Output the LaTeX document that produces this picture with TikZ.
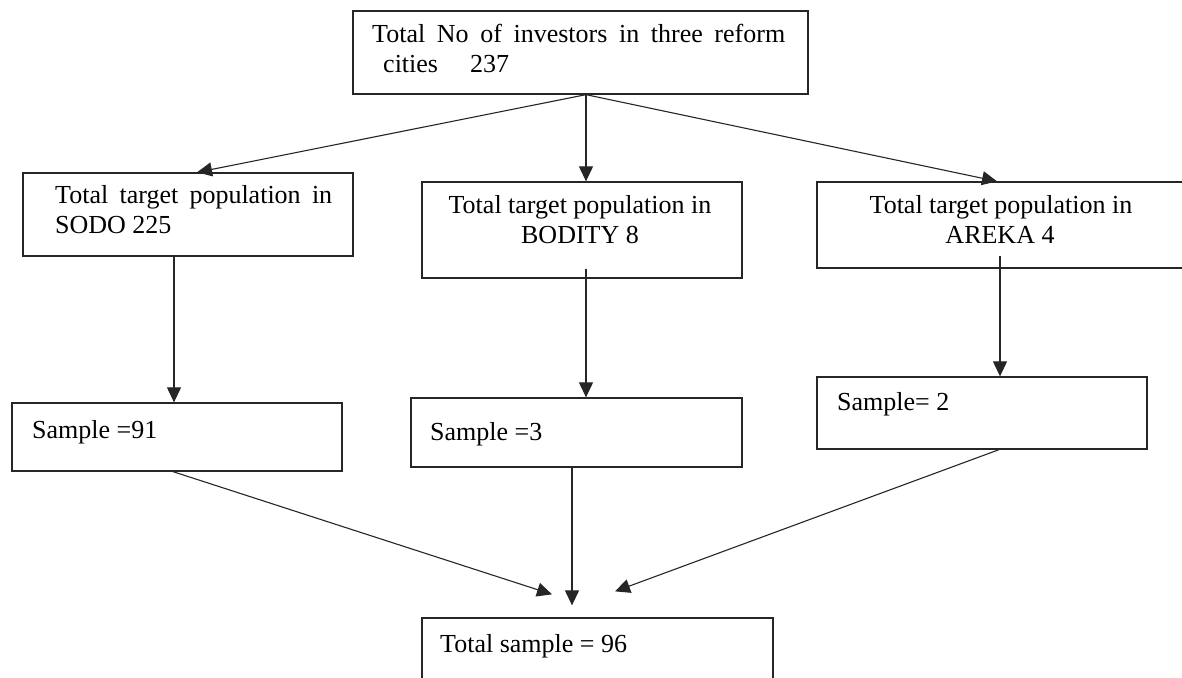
\documentclass[tikz,border=0pt]{standalone}
\usepackage{fontspec}
\setmainfont{Liberation Serif}
\usetikzlibrary{arrows.meta,calc}
\begin{document}
\begin{tikzpicture}[x=1pt,y=-1pt,
  box/.style={draw=black!85,line width=1.3pt,rectangle,inner sep=0pt},
  txt/.style={anchor=base west,inner sep=0pt,font=\fontsize{26}{30}\selectfont},
  ctxt/.style={anchor=base,inner sep=0pt,font=\fontsize{26}{30}\selectfont},
  arr/.style={draw=black!85,line width=1.1pt,-{Triangle[length=15pt,width=14pt]}}]
\clip (0,0) rectangle (1182,677);
\fill[white] (0,0) rectangle (1182,677);
% boxes
\node[box,minimum width=455pt,minimum height=83pt] (top) at (580.5,52.5) {};
\node[box,minimum width=330pt,minimum height=83pt] (b1) at (188,214.5) {};
\node[box,minimum width=320pt,minimum height=96pt] (b2) at (582,230) {};
\node[box,minimum width=383pt,minimum height=86pt] (b3) at (1008.5,225) {};
\node[box,minimum width=330pt,minimum height=68pt] (s1) at (177,437) {};
\node[box,minimum width=331pt,minimum height=69pt] (s2) at (576.5,432.5) {};
\node[box,minimum width=330pt,minimum height=72pt] (s3) at (982,413) {};
\node[box,minimum width=351pt,minimum height=82pt] (tot) at (597.5,659) {};
% texts
\node[txt] (t1a) at (372,43) {\makebox[413pt][s]{Total No of investors in three reform}};
\node[txt] (t1b) at (383,73) {cities\hspace{32pt}237};
\node[txt] (l1a) at (55,203) {\makebox[277pt][s]{Total target population in}};
\node[txt] (l1b) at (55,233) {SODO 225};
\node[ctxt] (m1a) at (580,213) {Total target population in};
\node[ctxt] (m1b) at (580,243) {BODITY 8};
\node[ctxt] (r1a) at (1001,213) {Total target population in};
\node[ctxt] (r1b) at (1000,243) {AREKA 4};
\node[txt] (ls) at (32,438) {Sample =91};
\node[txt] (ms) at (430,440) {Sample =3};
\node[txt] (rs) at (837,410) {Sample= 2};
\node[txt] (ts) at (440,652) {Total sample = 96};
% connectors
\coordinate (o) at ($(top.south)+(5.5,0)$);
\draw[arr] (o) -- ($(b1.north)+(9,0)$);
\draw[arr] (o) -- ($(b2.north)+(4,0)$);
\draw[arr] (o) -- ($(b3.north)+(-11.5,0)$);
\draw[arr] ($(b1.south)+(-14,0)$) -- ($(s1.north)+(-3,0)$);
\draw[arr] ($(b2.south)+(4,-10)$) -- ($(s2.north)+(9.5,0)$);
\draw[arr] ($(b3.south)+(-8.5,-13)$) -- ($(s3.north)+(18,0)$);
\draw[arr] ($(s1.south)+(-4,0)$) -- ($(tot.north)+(-45.5,-23)$);
\draw[arr] ($(s2.south)+(-4.5,0)$) -- ($(tot.north)+(-25.5,-12)$);
\draw[arr] ($(s3.south)+(17,0)$) -- ($(tot.north)+(17.5,-26)$);
\end{tikzpicture}
\end{document}
